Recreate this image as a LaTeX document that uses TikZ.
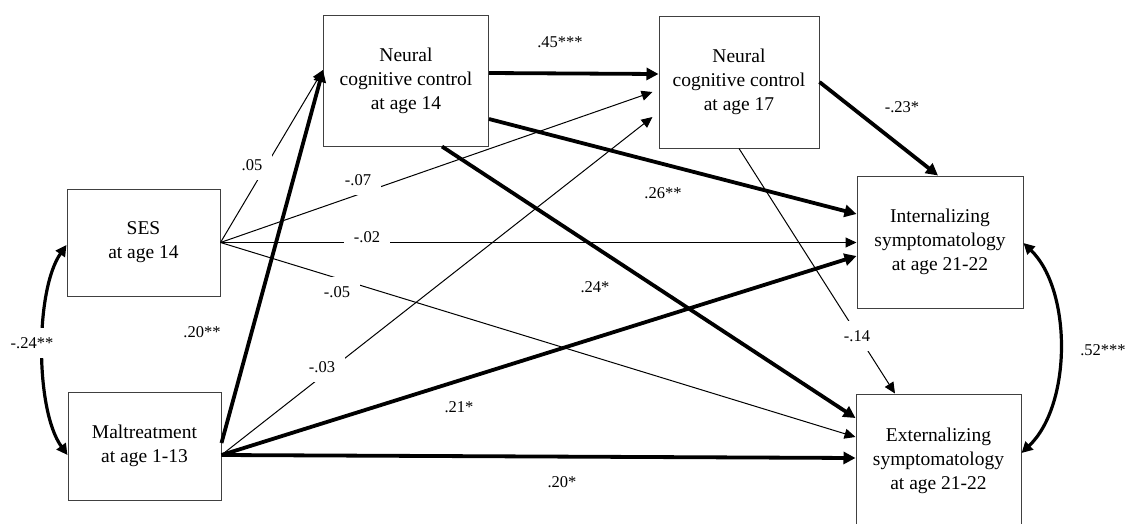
\documentclass[tikz,border=0pt]{standalone}
\usepackage{fontspec}
\setmainfont{Liberation Serif}
\usetikzlibrary{arrows.meta}
\begin{document}
\begin{tikzpicture}[x=1pt,y=-1pt,
  box/.style={draw=black!75, line width=1pt, inner sep=0pt, align=center,
    font=\fontsize{19.5}{24}\selectfont},
  lnthin/.style={line width=1pt, -{Triangle[length=11pt,width=10pt]}},
  lnthick/.style={line width=3.8pt, -{Triangle[length=12pt,width=12pt]}},
  curvy/.style={line width=3.2pt, {Triangle[length=11pt,width=11pt]}-{Triangle[length=11pt,width=11pt]}},
  lab/.style={fill=white, inner xsep=10pt, inner ysep=0pt, minimum height=30pt,
    font=\fontsize{16.5}{18}\selectfont}
]
\useasboundingbox (0,0) rectangle (1130,523);
\clip (0,0) rectangle (1130,523);

% boxes
\node[box, minimum width=153pt, minimum height=107pt] (ses) at (143.5,242.5) {SES\\at age 14};
\node[box, minimum width=153pt, minimum height=108pt] (malt) at (144.5,446) {Maltreatment\\at age 1-13};
\node[box, minimum width=165pt, minimum height=131pt] (n14) at (406,80.5) {Neural\\cognitive control\\at age 14};
\node[box, minimum width=160pt, minimum height=132pt] (n17) at (739,82) {Neural\\cognitive control\\at age 17};
\node[box, minimum width=166pt, minimum height=132pt] (int) at (940,242) {Internalizing\\symptomatology\\at age 21-22};
\node[box, minimum width=165pt, minimum height=134pt] (ext) at (938.5,461) {Externalizing\\symptomatology\\at age 21-22};

% thin paths
\draw[lnthin] (ses.east) -- ([yshift=10.5pt]n14.west);
\draw[lnthin] (ses.east) -- ([xshift=-6pt,yshift=-10pt]n17.west);
\draw[lnthin] (ses.east) -- (ses.east -| int.west);
\draw[lnthin] (ses.east) -- ([yshift=24pt]ext.west);
\draw[lnthin] ([yshift=-9pt]malt.east) -- ([xshift=-6pt,yshift=-35pt]n17.west);
\draw[lnthin] (n17.south) -- ([xshift=-43.5pt]ext.north);

% thick paths
\draw[lnthick] ([yshift=3pt]malt.east) -- ([yshift=10.5pt]n14.west);
\draw[lnthick] ([yshift=7.5pt]n14.east) -- ([yshift=8pt]n17.west);
\draw[lnthick] ([yshift=-38.5pt]n14.east) -- ([yshift=28pt]int.west);
\draw[lnthick] ([xshift=36pt]n14.south) -- ([yshift=43pt]ext.west);
\draw[lnthick] (n17.east) -- ([xshift=-2pt]int.north);
\draw[lnthick] ([yshift=-9pt]malt.east) -- ([yshift=-14pt]int.west);
\draw[lnthick] ([yshift=-9pt]malt.east) -- ([yshift=3pt]ext.west);

% correlations
\draw[curvy] ([yshift=-2.5pt]ses.west) .. controls (35,290) and (35,410) .. ([yshift=-9pt]malt.west);
\draw[curvy] ([yshift=-1pt]int.east) .. controls (1072,290) and (1072,405) .. ([yshift=8pt]ext.east);

% labels
\node[lab] (l45) at (560,42) {.45***};
\node[lab] (l05) at (252,165) {.05};
\node[lab] (l07) at (358,180) {-.07};
\node[lab] (l02) at (367,237) {-.02};
\node[lab] (l05b) at (337,292) {-.05};
\node[lab] (l24) at (595,287) {.24*};
\node[lab] (l26) at (663,193) {.26**};
\node[lab] (l23) at (902,107) {-.23*};
\node[lab] (l20a) at (202,332) {.20**};
\node[lab] (l03) at (322,367) {-.03};
\node[lab] (l21) at (459,407) {.21*};
\node[lab] (l20b) at (562,482) {.20*};
\node[lab] (l14) at (857,336) {-.14};
\node[lab] (l52) at (1103,350) {.52***};
\node[lab] (l24b) at (32,343) {-.24**};
\end{tikzpicture}
\end{document}
